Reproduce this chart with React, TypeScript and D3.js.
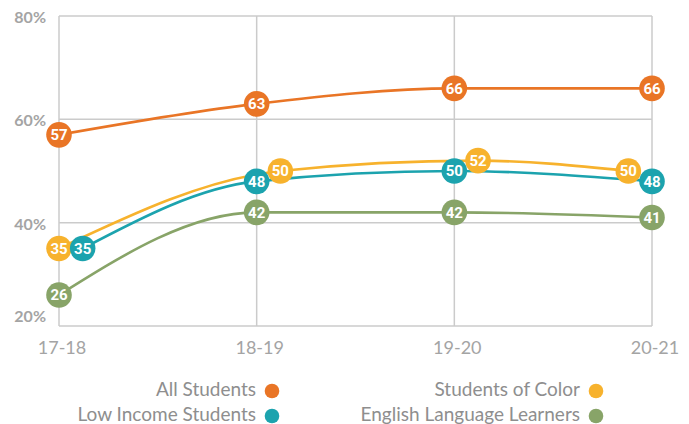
import * as d3 from 'd3'

const years = ['17-18', '18-19', '19-20', '20-21']
const allStudents = [57, 63, 66, 66]
const studentsOfColor = [35, 50, 52, 50]
const lowIncome = [35, 48, 50, 48]
const ell = [26, 42, 42, 41]
const yTicks = [20, 40, 60, 80]

interface Series {
  name: string
  color: string
  values: number[]
}

// draw order: teal sits on top of yellow where they touch
const series: Series[] = [
  { name: 'All Students', color: '#e97526', values: allStudents },
  { name: 'English Language Learners', color: '#88a468', values: ell },
  { name: 'Students of Color', color: '#f7b22d', values: studentsOfColor },
  { name: 'Low Income Students', color: '#1ca3ae', values: lowIncome },
]

const legendRows = [
  ['All Students', 'Students of Color'],
  ['Low Income Students', 'English Language Learners'],
]

const W = 689
const H = 424
const ML = 59
const MR = 37
const MT = 16
const MB = 98
const R = 12.8
const GRID = '#cbcbcb'
const AXIS_TXT = '#a4a4a4'
const FONT = 'Lato, "Open Sans", sans-serif'

export default function App() {
  const x = d3.scalePoint<string>().domain(years).range([ML, W - MR])
  const y = d3.scaleLinear().domain([20, 80]).range([H - MB, MT])

  // nudge markers that would sit on top of each other (colour vs low income)
  const dx = series.map((s) => s.values.map(() => 0))
  const a = series.findIndex((s) => s.name === 'Students of Color')
  const b = series.findIndex((s) => s.name === 'Low Income Students')
  years.forEach((_, i) => {
    const ya = y(series[a].values[i])
    const yb = y(series[b].values[i])
    if (Math.abs(ya - yb) < R * 2) {
      const mover = series[a].values[i] > series[b].values[i] ? a : b
      const dir = i === years.length - 1 ? -1 : 1
      dx[mover][i] = dir * R * 1.85
    }
  })

  const line = d3
    .line<[number, number]>()
    .x((d) => d[0])
    .y((d) => d[1])
    .curve(d3.curveMonotoneX)

  const pts = series.map((s, si) =>
    s.values.map((v, i) => [(x(years[i]) ?? 0) + dx[si][i], y(v)] as [number, number])
  )

  const colorOf = (name: string) => series.find((s) => s.name === name)?.color ?? '#999'

  return (
    <svg
      width={W}
      height={H}
      style={{ position: 'absolute', left: 0, top: 0, background: '#fff' }}
    >
      {/* horizontal grid + y labels */}
      {yTicks.map((t, i) => (
        <g key={t}>
          <line x1={ML} x2={W - MR} y1={y(t)} y2={y(t)} stroke={GRID} strokeWidth={1.5} />
          <text
            x={46}
            y={y(t) + (i === 0 ? -10 : 1.5)}
            dy="0.35em"
            textAnchor="end"
            fill={AXIS_TXT}
            fontSize={16}
            fontWeight={700}
            fontFamily={FONT}
          >
            {t}%
          </text>
        </g>
      ))}

      {/* vertical grid + x labels */}
      {years.map((yr) => (
        <g key={yr}>
          <line
            x1={x(yr)}
            x2={x(yr)}
            y1={MT}
            y2={H - MB}
            stroke={GRID}
            strokeWidth={1.5}
          />
          <text
            x={(x(yr) ?? 0) + 3}
            y={H - MB + 22}
            dy="0.35em"
            textAnchor="middle"
            fill={AXIS_TXT}
            fontSize={18}
            fontFamily={FONT}
          >
            {yr}
          </text>
        </g>
      ))}

      {/* lines */}
      {series.map((s, si) => (
        <path key={s.name} d={line(pts[si]) ?? ''} fill="none" stroke={s.color} strokeWidth={2.6} />
      ))}

      {/* markers */}
      {series.map((s, si) => (
        <g key={s.name}>
          {s.values.map((v, i) => (
            <g key={i} transform={`translate(${pts[si][i][0]},${pts[si][i][1]})`}>
              <circle r={R} fill={s.color} />
              <text
                dy="0.36em"
                textAnchor="middle"
                fill="#fff"
                fontSize={15}
                fontWeight={700}
                fontFamily="Roboto, sans-serif"
              >
                {v}
              </text>
            </g>
          ))}
        </g>
      ))}

      {/* legend */}
      {legendRows.map((row, ri) =>
        row.map((name, ci) => {
          const tx = ci === 0 ? 256 : 580
          const ty = 389 + ri * 25
          return (
            <g key={name}>
              <text
                x={tx}
                y={ty}
                dy="0.35em"
                textAnchor="end"
                fill="#8e8e8e"
                fontSize={19}
                fontFamily={FONT}
              >
                {name}
              </text>
              <circle cx={tx + 16} cy={ty + 2} r={7.3} fill={colorOf(name)} />
            </g>
          )
        })
      )}
    </svg>
  )
}
